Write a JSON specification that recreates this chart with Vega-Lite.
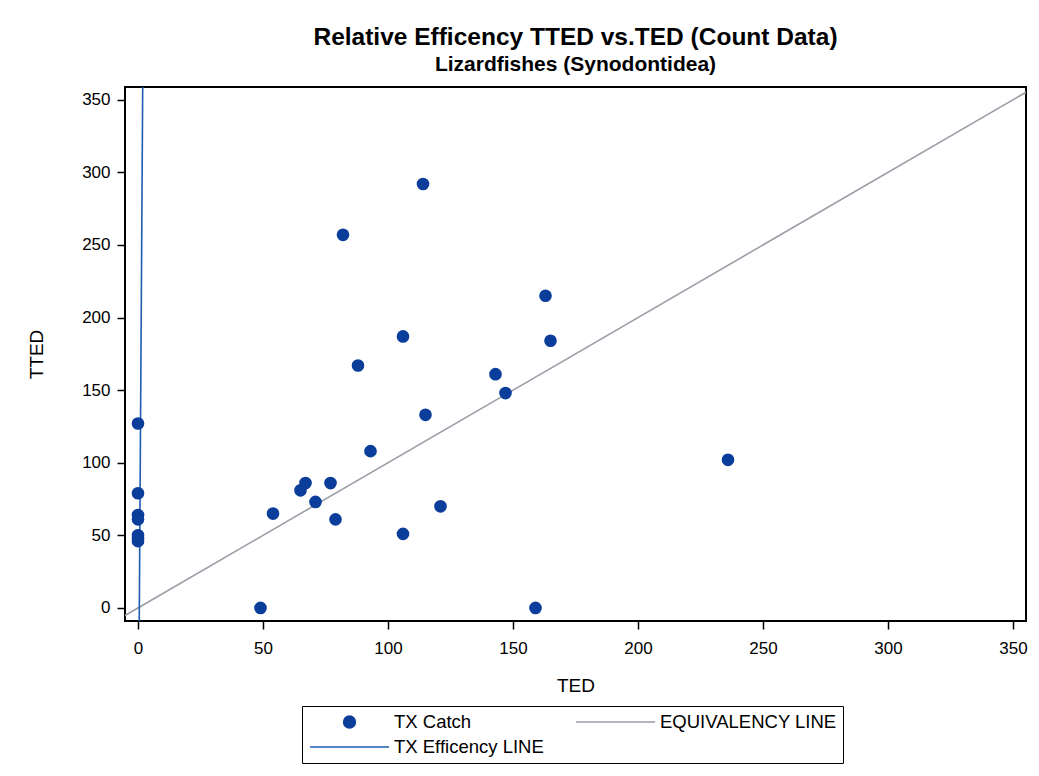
{
  "$schema": "https://vega.github.io/schema/vega-lite/v6.json",
  "width": 901,
  "height": 534,
  "autosize": "none",
  "padding": {"left": 125, "top": 87, "right": 13, "bottom": 155},
  "background": "white",
  "title": {
    "text": "Relative Efficency TTED vs.TED (Count Data)",
    "subtitle": "Lizardfishes (Synodontidea)",
    "anchor": "middle",
    "frame": "group",
    "font": "Liberation Sans",
    "fontSize": 24.5,
    "fontWeight": "bold",
    "color": "#000",
    "subtitleFont": "Liberation Sans",
    "subtitleFontSize": 21,
    "subtitleFontWeight": "bold",
    "subtitleColor": "#000",
    "subtitlePadding": 4,
    "offset": 11
  },
  "data": {
    "values": [
      {"series": "TX Catch", "TED": 0, "TTED": 127},
      {"series": "TX Catch", "TED": 0, "TTED": 79},
      {"series": "TX Catch", "TED": 0, "TTED": 64},
      {"series": "TX Catch", "TED": 0, "TTED": 61},
      {"series": "TX Catch", "TED": 0, "TTED": 50},
      {"series": "TX Catch", "TED": 0, "TTED": 48},
      {"series": "TX Catch", "TED": 0, "TTED": 46},
      {"series": "TX Catch", "TED": 49, "TTED": 0},
      {"series": "TX Catch", "TED": 54, "TTED": 65},
      {"series": "TX Catch", "TED": 65, "TTED": 81},
      {"series": "TX Catch", "TED": 67, "TTED": 86},
      {"series": "TX Catch", "TED": 71, "TTED": 73},
      {"series": "TX Catch", "TED": 77, "TTED": 86},
      {"series": "TX Catch", "TED": 79, "TTED": 61},
      {"series": "TX Catch", "TED": 82, "TTED": 257},
      {"series": "TX Catch", "TED": 88, "TTED": 167},
      {"series": "TX Catch", "TED": 93, "TTED": 108},
      {"series": "TX Catch", "TED": 106, "TTED": 51},
      {"series": "TX Catch", "TED": 106, "TTED": 187},
      {"series": "TX Catch", "TED": 114, "TTED": 292},
      {"series": "TX Catch", "TED": 115, "TTED": 133},
      {"series": "TX Catch", "TED": 121, "TTED": 70},
      {"series": "TX Catch", "TED": 143, "TTED": 161},
      {"series": "TX Catch", "TED": 147, "TTED": 148},
      {"series": "TX Catch", "TED": 159, "TTED": 0},
      {"series": "TX Catch", "TED": 163, "TTED": 215},
      {"series": "TX Catch", "TED": 165, "TTED": 184},
      {"series": "TX Catch", "TED": 236, "TTED": 102},
      {"series": "EQUIVALENCY LINE", "TED": -10, "TTED": -10},
      {"series": "EQUIVALENCY LINE", "TED": 360, "TTED": 360},
      {"series": "TX Efficency LINE", "TED": 0.5, "TTED": -9},
      {"series": "TX Efficency LINE", "TED": 1.88, "TTED": 359}
    ]
  },
  "encoding": {
    "x": {
      "field": "TED",
      "type": "quantitative",
      "title": "TED",
      "scale": {"domain": [-5.2, 355.2], "nice": false, "zero": false},
      "axis": {"values": [0, 50, 100, 150, 200, 250, 300, 350]}
    },
    "y": {
      "field": "TTED",
      "type": "quantitative",
      "title": "TTED",
      "scale": {"domain": [-9, 358.8], "nice": false, "zero": false},
      "axis": {"values": [0, 50, 100, 150, 200, 250, 300, 350]}
    },
    "color": {
      "field": "series",
      "type": "nominal",
      "scale": {
        "domain": ["TX Catch", "EQUIVALENCY LINE", "TX Efficency LINE"],
        "range": ["#0b3d9a", "#9a9ea6", "#1f5cb0"]
      },
      "legend": {
        "title": null,
        "orient": "none",
        "legendX": 177,
        "legendY": 619,
        "columns": 2,
        "direction": "horizontal",
        "clipHeight": 20,
        "rowPadding": 5,
        "columnPadding": 30,
        "padding": 6,
        "symbolSize": 6241,
        "symbolOffset": 1,
        "labelOffset": 4,
        "labelFont": "Liberation Sans",
        "labelFontSize": 18.5,
        "labelColor": "#000",
        "labelLimit": 300,
        "strokeColor": "#000",
        "fillColor": "#fff",
        "encode": {
          "symbols": {
            "update": {
              "shape": {"signal": "datum.value === 'TX Catch' ? 'M -0.15 0 A 0.15 0.15 0 1 0 0.15 0 A 0.15 0.15 0 1 0 -0.15 0 Z' : 'stroke'"},
              "size": {"value": 6241},
              "fill": {"signal": "datum.value === 'TX Catch' ? '#0b3d9a' : 'transparent'"},
              "stroke": {"scale": "color", "field": "value"},
              "strokeWidth": {"value": 1.5},
              "opacity": {"value": 1}
            }
          }
        }
      }
    }
  },
  "layer": [
    {
      "transform": [{"filter": "datum.series !== 'TX Catch'"}],
      "mark": {"type": "line", "clip": true, "strokeWidth": 1.6},
      "encoding": {"detail": {"field": "series"}}
    },
    {
      "transform": [{"filter": "datum.series === 'TX Catch'"}],
      "mark": {"type": "point", "filled": true, "shape": "circle", "size": 160, "opacity": 1}
    }
  ],
  "config": {
    "view": {"stroke": "#000", "strokeWidth": 2},
    "axis": {
      "grid": false,
      "domain": false,
      "ticks": true,
      "tickColor": "#000",
      "tickSize": 8,
      "tickWidth": 1.5,
      "labelFont": "Liberation Sans",
      "labelFontSize": 17,
      "labelColor": "#000",
      "titleFont": "Liberation Sans",
      "titleFontSize": 19,
      "titleFontWeight": "normal",
      "titleColor": "#000"
    },
    "axisX": {"labelPadding": 11, "titlePadding": 20},
    "axisY": {"labelPadding": 7, "titlePadding": 35}
  }
}
